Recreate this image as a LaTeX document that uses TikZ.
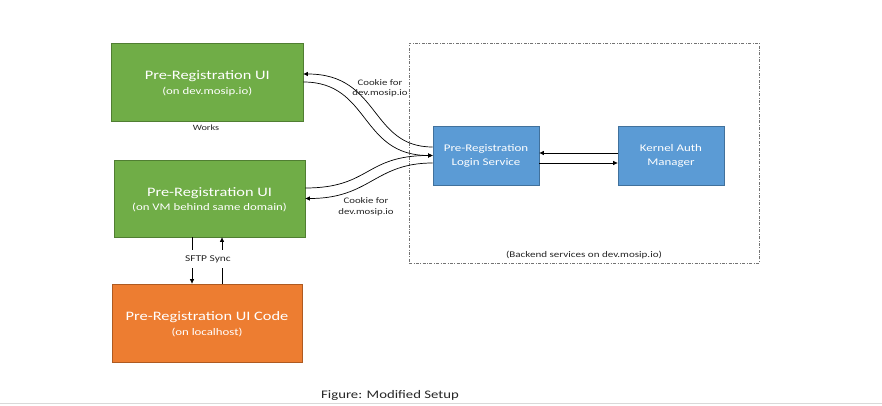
\documentclass[tikz,border=0pt]{standalone}
\usepackage{fontspec}
\setmainfont{Carlito}
\usepackage{graphicx}
\usetikzlibrary{arrows.meta}
\definecolor{gfill}{HTML}{70AD47}
\definecolor{gline}{HTML}{507E32}
\definecolor{bfill}{HTML}{5B9BD5}
\definecolor{bline}{HTML}{41719C}
\definecolor{ofill}{HTML}{ED7D31}
\definecolor{oline}{HTML}{AE5A21}
\definecolor{txt}{HTML}{262626}
\newcommand{\sx}[1]{\scalebox{1.27}[1]{#1}}
\newcommand{\twolines}[5]{\sx{\fontsize{#3}{#5}\selectfont\begin{tabular}{@{}c@{}}{\fontsize{#1}{#5}\selectfont #2}\\ #4\end{tabular}}}
\begin{document}
\begin{tikzpicture}[x=1pt,y=-1pt,
  gbox/.style={draw=gline,fill=gfill,line width=0.8pt,inner sep=0pt},
  bbox/.style={draw=bline,fill=bfill,line width=0.8pt,inner sep=0pt},
  obox/.style={draw=oline,fill=ofill,line width=0.8pt,inner sep=0pt},
  boxtext/.style={text=white,inner sep=0pt},
  lbl/.style={text=txt,inner sep=0pt},
  con/.style={line width=0.7pt,black},
  arr/.style={-{Triangle[length=4.5pt,width=4pt]}},
  dashbox/.style={draw=black!55,line width=0.6pt,dash pattern=on 3pt off 1.5pt on 0.8pt off 1.5pt,inner sep=0pt}]
\path[fill=white] (0,0) rectangle (882,406);
\useasboundingbox (0,0) rectangle (882,406);

% backend area
\node[dashbox,minimum width=350pt,minimum height=220pt] (be) at (584,153) {};
\node[lbl,font=\fontsize{8.7}{10.5}\selectfont] (bel) at ([yshift=8pt]be.south) {\sx{(Backend services on dev.mosip.io)}};

% boxes
\node[gbox,minimum width=191.5pt,minimum height=78pt] (g1) at (207.25,82) {};
\node[gbox,minimum width=191pt,minimum height=77pt] (g2) at (209.5,198.5) {};
\node[obox,minimum width=190pt,minimum height=78pt] (or) at (207,323) {};
\node[bbox,minimum width=106pt,minimum height=59pt] (b1) at (486,155.5) {};
\node[bbox,minimum width=106pt,minimum height=59pt] (b2) at (671,155.5) {};

% box texts
\node[boxtext] (g1t) at ([yshift=-2.3pt]g1.center) {\twolines{12.9}{Pre-Registration UI}{10.1}{(on dev.mosip.io)}{14.5}};
\node[boxtext] (g2t) at ([yshift=-2.3pt]g2.center) {\twolines{12.9}{Pre-Registration UI}{10.1}{(on VM behind same domain)}{14.5}};
\node[boxtext] (ort) at ([yshift=-2.3pt]or.center) {\twolines{12.9}{Pre-Registration UI Code}{10.1}{(on localhost)}{14.5}};
\node[boxtext] (b1t) at (b1.center) {\twolines{10.2}{Pre-Registration}{10.2}{Login Service}{14}};
\node[boxtext] (b2t) at ([yshift=-0.5pt]b2.center) {\twolines{10.2}{Kernel Auth}{10.2}{Manager}{14}};

% curved connectors
\draw[con,arr] ([yshift=8.5pt]b1.west) .. controls +(-63,0) and +(77,0) .. ([yshift=8pt]g1.east);
\draw[con,arr] (g1.east) .. controls +(67,0) and +(-73,0) .. (b1.west);
\draw[con,arr] ([yshift=10.5pt]g2.east) .. controls +(65,0) and +(-68,0) .. (b1.west);
\draw[con,arr] ([yshift=-7.5pt]b1.west) .. controls +(-58,0) and +(65,0) .. (g2.east);

% login <-> kernel
\draw[con,arr] ([yshift=2.5pt]b2.west) -- ([yshift=2.5pt]b1.east);
\draw[con,arr] ([yshift=-7.5pt]b1.east) -- ([yshift=-7.5pt]b2.west);

% SFTP
\coordinate (sd) at ([xshift=-17.5pt]g2.south);
\coordinate (su) at ([xshift=12.5pt]g2.south);
\draw[con,arr] (sd) -- (sd |- or.north);
\draw[con,arr] (su |- or.north) -- (su);
\node[lbl,fill=white,inner xsep=1pt,inner ysep=5pt,font=\fontsize{9}{10.5}\selectfont] (sftp) at (208,259) {\sx{SFTP Sync}};

% labels
\node[lbl,font=\fontsize{8.1}{10}\selectfont] (works) at (206,128) {\sx{Works}};
\node[lbl,font=\fontsize{8.5}{10.5}\selectfont] (ck1) at (380,88.5) {\sx{\begin{tabular}{@{}c@{}}Cookie for\\dev.mosip.io\end{tabular}}};
\node[lbl,font=\fontsize{8.5}{11.5}\selectfont] (ck2) at (366,206.5) {\sx{\begin{tabular}{@{}c@{}}Cookie for\\dev.mosip.io\end{tabular}}};

% caption
\node[lbl,font=\fontsize{11.6}{14}\selectfont] (cap) at (390,395) {\sx{Figure: Modified Setup}};
\draw[black!15,line width=1.2pt] (0,403.5) -- (882,403.5);
\end{tikzpicture}
\end{document}
